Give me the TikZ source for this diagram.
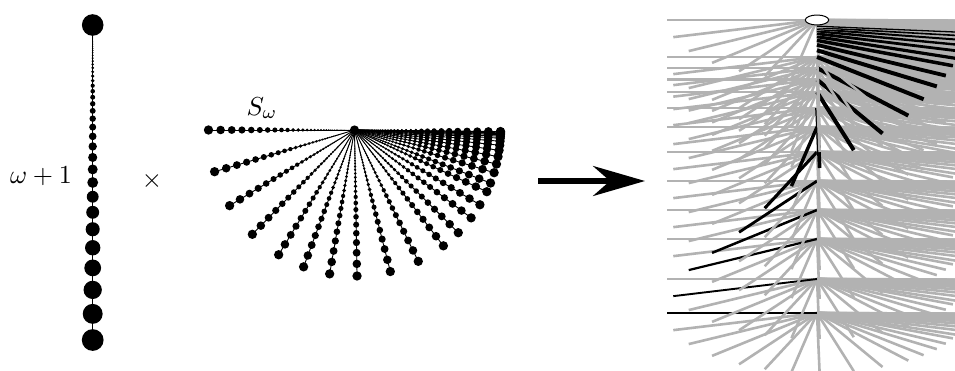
\documentclass[tikz,border=0pt]{standalone}
\usetikzlibrary{arrows.meta,shapes.geometric}
\definecolor{raygrey}{RGB}{178,178,178}
\tikzset{
  colline/.style={line width=1.2pt},
  fanline/.style={line width=0.9pt},
  greyray/.style={draw=raygrey, line width=2.6pt},
  bigarrow/.style={line width=5.3pt, -{Stealth[length=52pt,width=30pt,inset=17pt]}},
  lbl/.style={inner sep=0pt, scale=2.6},
  limitpt/.style={draw=black, fill=white, line width=1pt, ellipse, inner sep=0pt,
                  minimum width=23.4pt, minimum height=10pt},
}
\def\thetalist{0,16.6,31.2,45.6,58.7,69.6,80.2,91,104.2,115.9,127.5,135.3,143,149.2,155,158.7,163,166.5,169.5,172,174,175.6,176.8,177.6,178.2,178.6,178.9,179.2,179.4}
\def\levellist{313,279,239,210,181,152,127,108,92,79.5,68,57,50.3,44.9,40.4,36.7,33.7,31.2,29.2,27.6,26.2}
% black widths per level
\def\bwlist{1.6,1.9,2.2,2.5,2.8,3.1,3.4,3.7,4.0,4.0,4.0,4.0,4.0,3.8,3.5,3.2,2.8,2.4,2.0,1.6,1.3}
\begin{document}
\begin{tikzpicture}[x=1pt,y=-1pt]
\useasboundingbox (0,0) rectangle (955,370);

% ---- omega+1 column ----
\coordinate (colTop) at (92.7,25);
\coordinate (colBot) at (92.7,340);
\draw[colline] (colTop) -- (colBot);
\fill (colTop) circle[radius=10.8pt];
\foreach \j in {0,...,60} {
  \pgfmathsetmacro\dd{315*0.917^\j}
  \pgfmathsetmacro\rr{0.0345*\dd}
  \fill (colTop) ++(0,\dd) circle[radius=\rr pt];
}
\node[lbl, anchor=base] (omlabel) at (41,183) {$\omega+1$};
\node[lbl] (times) at (152,181) {$\times$};

% ---- S_omega fan ----
\coordinate (fanC) at (354.5,130);
\foreach \th in \thetalist {
  \draw[fanline] (fanC) -- ++({-146*cos(\th)},{146*sin(\th)});
  \foreach \j in {0,...,40} {
    \pgfmathsetmacro\dd{146*0.917^\j}
    \pgfmathsetmacro\rr{0.032*\dd}
    \fill (fanC) ++({-\dd*cos(\th)},{\dd*sin(\th)}) circle[radius=\rr pt];
  }
}
\fill (fanC) circle[radius=4.6pt];
\node[lbl, anchor=base west] (slabel) at (246,115) {$S_\omega$};

% ---- arrow ----
\coordinate (arrtail) at (538,181);
\coordinate (arrtip) at (645,181);
\draw[bigarrow] (arrtail) -- (arrtip);

% ---- product picture ----
\begin{scope}
\clip (640,0) rectangle (955,370);
% limit level (omega) first
\foreach \th in \thetalist {
  \draw[greyray] (817,20) -- ++({-150*cos(\th)},{60*sin(\th)});
}
% levels from bottom to top; each: grey rays, then its black ray
\foreach \yy [count=\nn] in \levellist {
  \foreach \th [count=\kk] in \thetalist {
    \ifnum\kk=\nn\else
      \ifnum\nn>12
        \ifnum\kk>\nn
          \draw[greyray] (817,\yy) -- ++({-150*cos(\th)},{60*sin(\th)});
        \fi
      \else
        \draw[greyray] (817,\yy) -- ++({-150*cos(\th)},{60*sin(\th)});
      \fi
    \fi
  }
  \foreach \th [count=\kk] in \thetalist {
    \ifnum\kk=\nn
      \foreach \w [count=\ww] in \bwlist {
        \ifnum\ww=\nn
          \draw[black, line width=\w pt] (817,\yy) -- ++({-150*cos(\th)},{60*sin(\th)});
        \fi
      }
    \fi
  }
}
\end{scope}
\node[limitpt] (limit) at (817,20) {};
\end{tikzpicture}
\end{document}
